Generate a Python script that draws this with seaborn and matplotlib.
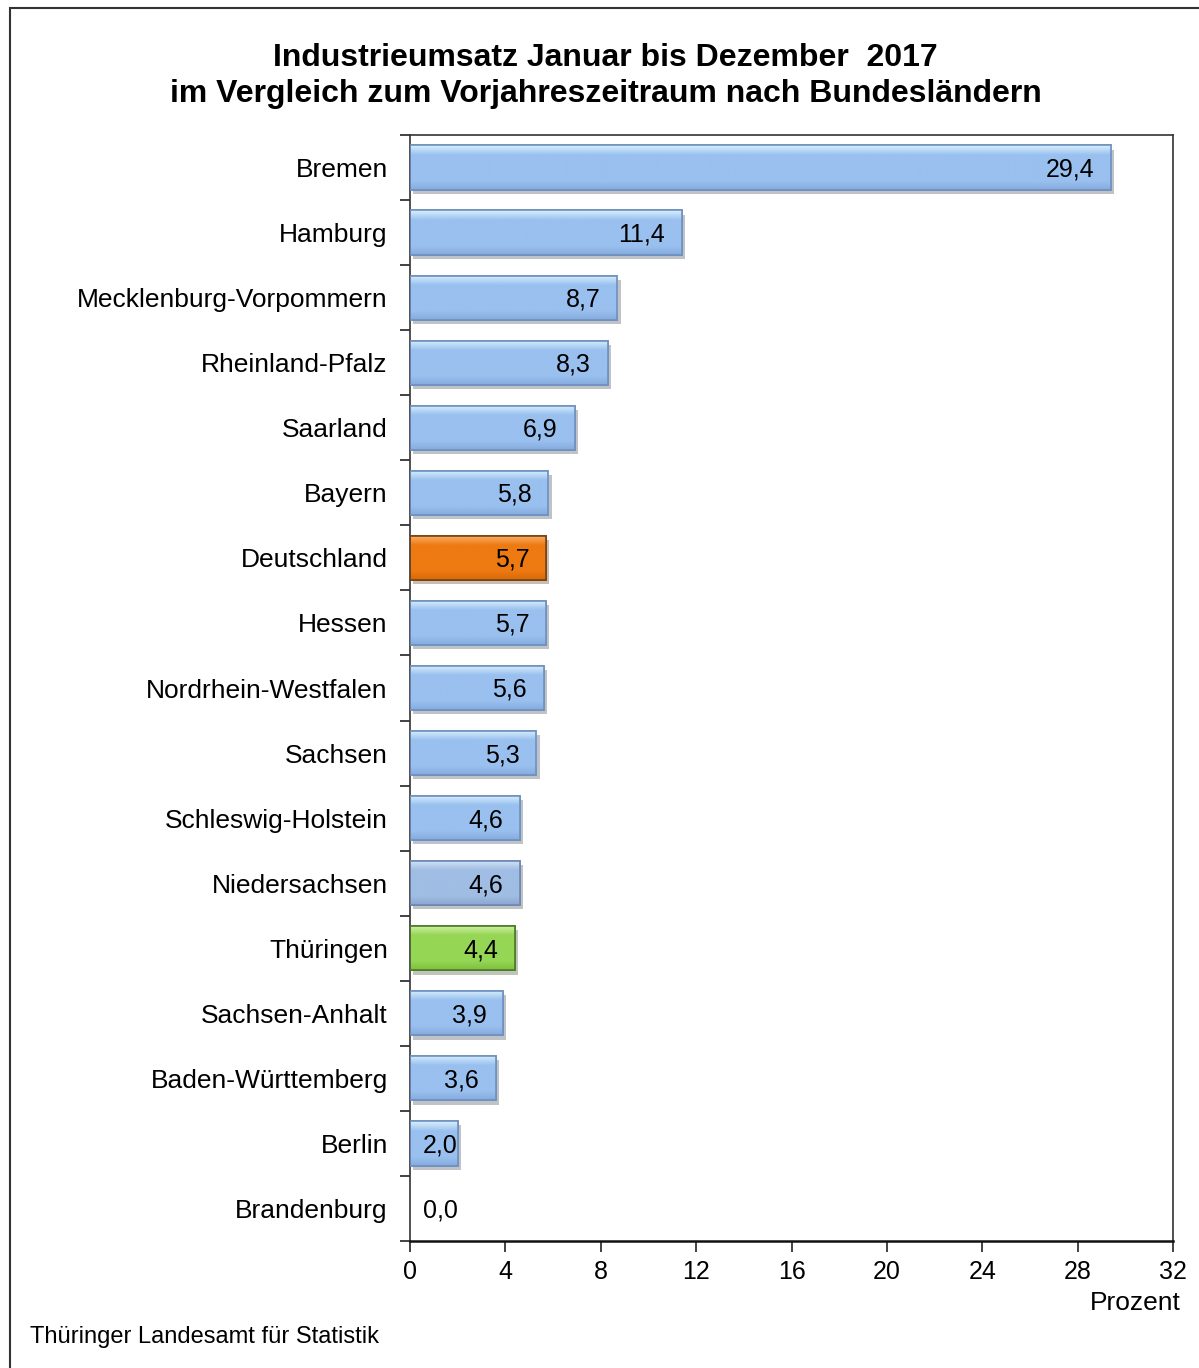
import numpy as np
import pandas as pd
import matplotlib
matplotlib.use("Agg")
import matplotlib.pyplot as plt
import matplotlib.patheffects as pe
from matplotlib.colors import to_rgb
from matplotlib.patches import Rectangle
import seaborn as sns

# --- data -------------------------------------------------------------------
laender = [
    "Bremen", "Hamburg", "Mecklenburg-Vorpommern", "Rheinland-Pfalz", "Saarland",
    "Bayern", "Deutschland", "Hessen", "Nordrhein-Westfalen", "Sachsen",
    "Schleswig-Holstein", "Niedersachsen", "Thüringen", "Sachsen-Anhalt",
    "Baden-Württemberg", "Berlin", "Brandenburg",
]
veraenderung = [29.4, 11.4, 8.7, 8.3, 6.9, 5.8, 5.7, 5.7, 5.6, 5.3,
                4.6, 4.6, 4.4, 3.9, 3.6, 2.0, 0.0]
x_ticks = [0, 4, 8, 12, 16, 20, 24, 28, 32]

title = ("Industrieumsatz Januar bis Dezember  2017\n"
         "im Vergleich zum Vorjahreszeitraum nach Bundesländern")
quelle = "Thüringer Landesamt für Statistik"

# colour per bar: (top highlight, main, bottom, edge)
blau = ("#d8f0fc", "#99c0ef", "#86acdd", "#6f90bf")
blau_grau = ("#d3e4f6", "#a0bde4", "#8ca8d2", "#6f88b0")
orange = ("#f7b36a", "#ee7a12", "#d8680a", "#7a4210")
gruen = ("#d2f3a8", "#96d655", "#80c040", "#4f7a2a")
farben = {name: blau for name in laender}
farben["Deutschland"] = orange
farben["Thüringen"] = gruen
farben["Niedersachsen"] = blau_grau

df = pd.DataFrame({"Land": laender, "Wert": veraenderung})

# --- figure -----------------------------------------------------------------
sns.set_style("white")
plt.rcParams["font.family"] = ["Liberation Sans", "DejaVu Sans"]
plt.rcParams["text.color"] = "black"
plt.rcParams["xtick.color"] = "black"
plt.rcParams["ytick.color"] = "black"

fig = plt.figure(figsize=(11.99, 13.68), dpi=100)
ax = fig.add_axes([410 / 1199, 1 - 1241 / 1368, 763 / 1199, 1106 / 1368])

sns.barplot(data=df, x="Wert", y="Land", hue="Land",
            palette={k: v[1] for k, v in farben.items()},
            legend=False, width=0.68, orient="h", ax=ax, saturation=1)

# bevel look: vertical gradient clipped to each bar, plus a soft shadow
for patch, name in zip(ax.patches, laender):
    top, main, bottom, edge = (np.array(to_rgb(c)) for c in farben[name])
    x0, y0 = patch.get_x(), patch.get_y()
    w, h = patch.get_width(), patch.get_height()
    if w <= 0:
        patch.set_visible(False)
        continue
    t = np.linspace(0, 1, 60)[:, None]
    grad = np.where(t < 0.22, top + (main - top) * (t / 0.22),
                    np.where(t < 0.8, main, main + (bottom - main) * ((t - 0.8) / 0.2)))
    img = ax.imshow(grad[:, None, :].repeat(2, axis=1), aspect="auto",
                    extent=(x0, x0 + w, y0 + h, y0), zorder=2, interpolation="bilinear")
    img.set_clip_path(patch)
    patch.set_edgecolor(edge)
    patch.set_linewidth(1.2)
    patch.set_zorder(1.5)
    patch.set_path_effects([pe.SimplePatchShadow(offset=(2.5, -3), alpha=0.3), pe.Normal()])
    ax.add_patch(Rectangle((x0, y0), w, h, fill=False, edgecolor=edge, lw=1.2, zorder=3))

for i, v in enumerate(veraenderung):
    ax.text(max(v - 0.7, 2.0), i + 0.03, f"{v:.1f}".replace(".", ","),
            ha="right", va="center", fontsize=18, color="black", zorder=4)

ax.set_xlim(0, 32)
ax.set_ylim(len(laender) - 0.5, -0.5)
ax.set_xticks(x_ticks)
ax.set_xticklabels([str(t) for t in x_ticks], fontsize=18)
ax.set_yticks(range(len(laender)))
ax.set_yticklabels(laender, fontsize=19)
ax.set_yticks(np.arange(-0.5, len(laender)), minor=True)
ax.tick_params(axis="y", which="major", left=True, length=0, pad=16)
ax.tick_params(axis="y", which="minor", left=True, length=7, width=1.2, direction="out", color="#222222")
ax.tick_params(axis="x", which="major", bottom=True, length=8, width=1.2, direction="out", pad=6, color="#222222")
ax.set_xlabel("")
ax.set_ylabel("")
for side in ["left", "right", "top"]:
    ax.spines[side].set_visible(True)
    ax.spines[side].set_color("#333333")
    ax.spines[side].set_linewidth(1.2)
ax.spines["bottom"].set_color("#111111")
ax.spines["bottom"].set_linewidth(1.8)
ax.grid(False)

ax.text(1.01, -0.045, "Prozent", transform=ax.transAxes, ha="right", va="top", fontsize=19)

fig.text(0.505, 1 - 76 / 1368, title, ha="center", va="center",
         fontsize=23, fontweight="bold", linespacing=1.25)
fig.text(30 / 1199, 1 - 1337 / 1368, quelle, ha="left", va="center", fontsize=17)

fig.patches.append(Rectangle((10 / 1199, -0.05), 1.1, 1 - 8 / 1368 + 0.05,
                             transform=fig.transFigure, fill=False,
                             edgecolor="#333333", lw=1.5, zorder=0))

fig.savefig("out.png", dpi=100)
